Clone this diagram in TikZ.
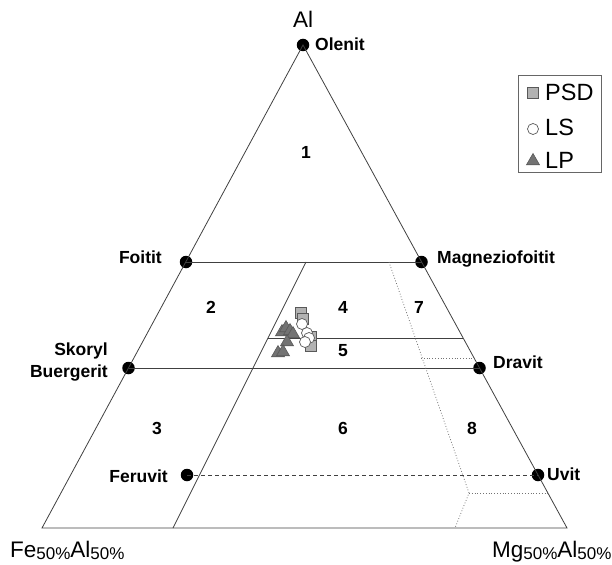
\documentclass[tikz,border=0pt]{standalone}
\usepackage{fontspec}
\setmainfont{Liberation Sans}
\usetikzlibrary{shapes.geometric}
\newcommand{\fiftypct}{\raisebox{-2pt}{\fontsize{17}{17}\selectfont 50\%}}
\begin{document}
\begin{tikzpicture}[x=1pt, y=-1pt,
	endmember/.style={circle, fill=black, inner sep=0pt, minimum size=12.5pt},
	mineral/.style={font=\fontsize{17.5}{19}\selectfont\bfseries, inner sep=0pt},
	field/.style={font=\fontsize{17.5}{19}\selectfont\bfseries, inner sep=0pt},
	pole/.style={font=\fontsize{22.5}{24}\selectfont, inner sep=0pt},
	boundary/.style={draw=black!75, line width=0.8pt},
	subfield/.style={draw=black!55, dotted, line width=0.8pt},
	psdmark/.style={rectangle, draw=black!65, fill=black!30, minimum size=11pt, inner sep=0pt, line width=0.7pt},
	lsmark/.style={circle, draw=black!65, fill=white, minimum size=11pt, inner sep=0pt, line width=0.7pt},
	lpmark/.style={regular polygon, regular polygon sides=3, draw=black!65, fill=black!55, minimum size=15pt, inner sep=0pt, line width=0.6pt}]
		
		\useasboundingbox (0,0) rectangle (612,564);
		
		%End members
		\node (Olenit) at (303,45) [endmember] {};
		\node (Foitit) at (186,262) [endmember] {};
		\node (Magneziofoitit) at (421.5,262) [endmember] {};
		\node (Skoryl) at (128.5,368) [endmember] {};
		\node (Dravit) at (479.5,368) [endmember] {};
		\node (Feruvit) at (187,475) [endmember] {};
		\node (Uvit) at (538,475) [endmember] {};
		\coordinate (FeAl) at (42,528);
		\coordinate (MgAl) at (567,528);
		
		%Names
		\node (OlenitName) at (315,51) [mineral, anchor=base west] {Olenit};
		\node (FoititName) at (162,263) [mineral, anchor=base east] {Foitit};
		\node (MagneziofoititName) at (437,263) [mineral, anchor=base west] {Magneziofoitit};
		\node (SkorylName) at (108,355) [mineral, anchor=base east] {Skoryl};
		\node (BuergeritName) at (108,377) [mineral, anchor=base east] {Buergerit};
		\node (DravitName) at (493,368) [mineral, anchor=base west] {Dravit};
		\node (FeruvitName) at (168,482) [mineral, anchor=base east] {Feruvit};
		\node (UvitName) at (547,480) [mineral, anchor=base west] {Uvit};
		
		\node (AlPole) at (303,28) [pole, anchor=base] {Al};
		\node (FePole) at (10,557) [pole, anchor=base west] {Fe\fiftypct Al\fiftypct};
		\node (MgPole) at (492,557) [pole, anchor=base west] {Mg\fiftypct Al\fiftypct};
		
		%Fields
		\node (FieldOne) at (306,152) [field] {1};
		\node (FieldTwo) at (211,307) [field] {2};
		\node (FieldThree) at (157,428) [field] {3};
		\node (FieldFour) at (343,307) [field] {4};
		\node (FieldFive) at (343,351) [field] {5};
		\node (FieldSix) at (343,428) [field] {6};
		\node (FieldSeven) at (419,307) [field] {7};
		\node (FieldEight) at (472,428) [field] {8};
		
		%Boundaries
		\draw[boundary] (Olenit.center) -- (MgAl) -- (FeAl) -- cycle;
		\draw[boundary] (Foitit.center) -- (Magneziofoitit.center);
		\draw[boundary] (Skoryl.center) -- (Dravit.center);
		\coordinate (SplitTop) at (306,262);
		\coordinate (SplitBottom) at (173,528);
		\draw[boundary] (SplitTop) -- (SplitBottom);
		\coordinate (FourFiveLeft) at (268,338);
		\coordinate (FourFiveRight) at (463,338);
		\draw[boundary] (FourFiveLeft) -- (FourFiveRight);
		\draw[boundary, dashed, dash pattern=on 4pt off 3pt] (Feruvit.center) -- (Uvit.center);
		
		%Dotted sub-fields
		\coordinate (DotTop) at (389,262);
		\coordinate (DotKnee) at (469,493);
		\coordinate (DotBottom) at (455,528);
		\draw[subfield] (DotTop) -- (DotKnee) -- (DotBottom);
		\coordinate (SevenLeft) at (421,358);
		\coordinate (SevenRight) at (474,358);
		\draw[subfield] (SevenLeft) -- (SevenRight);
		\coordinate (EightRight) at (548,493);
		\draw[subfield] (DotKnee) -- (EightRight);
		
		%Samples
		\foreach \px/\py in {282/332, 286/328, 290/331, 293/334, 287/342, 278/353, 283/352}
			\node at (\px,\py) [lpmark] {};
		\foreach \px/\py in {301/313, 303/319, 311/337, 311/346}
			\node at (\px,\py) [psdmark] {};
		\foreach \px/\py in {302/324, 307/333, 309/338, 305/342}
			\node at (\px,\py) [lsmark] {};
		
		%Legend
		\node (Legend) at (559.5,123.5) [draw=black!60, line width=0.8pt, minimum width=83pt, minimum height=97pt, inner sep=0pt] {};
		\node (PSDKey) at (533,93) [psdmark] {};
		\node (LSKey) at (533,129) [lsmark] {};
		\node (LPKey) at (533,161) [lpmark] {};
		\node (PSDName) at (545,101) [pole, anchor=base west, font=\fontsize{23.5}{25}\selectfont] {PSD};
		\node (LSName) at (545,136) [pole, anchor=base west, font=\fontsize{23.5}{25}\selectfont] {LS};
		\node (LPName) at (545,168) [pole, anchor=base west, font=\fontsize{23.5}{25}\selectfont] {LP};
		
\end{tikzpicture}
\end{document}
